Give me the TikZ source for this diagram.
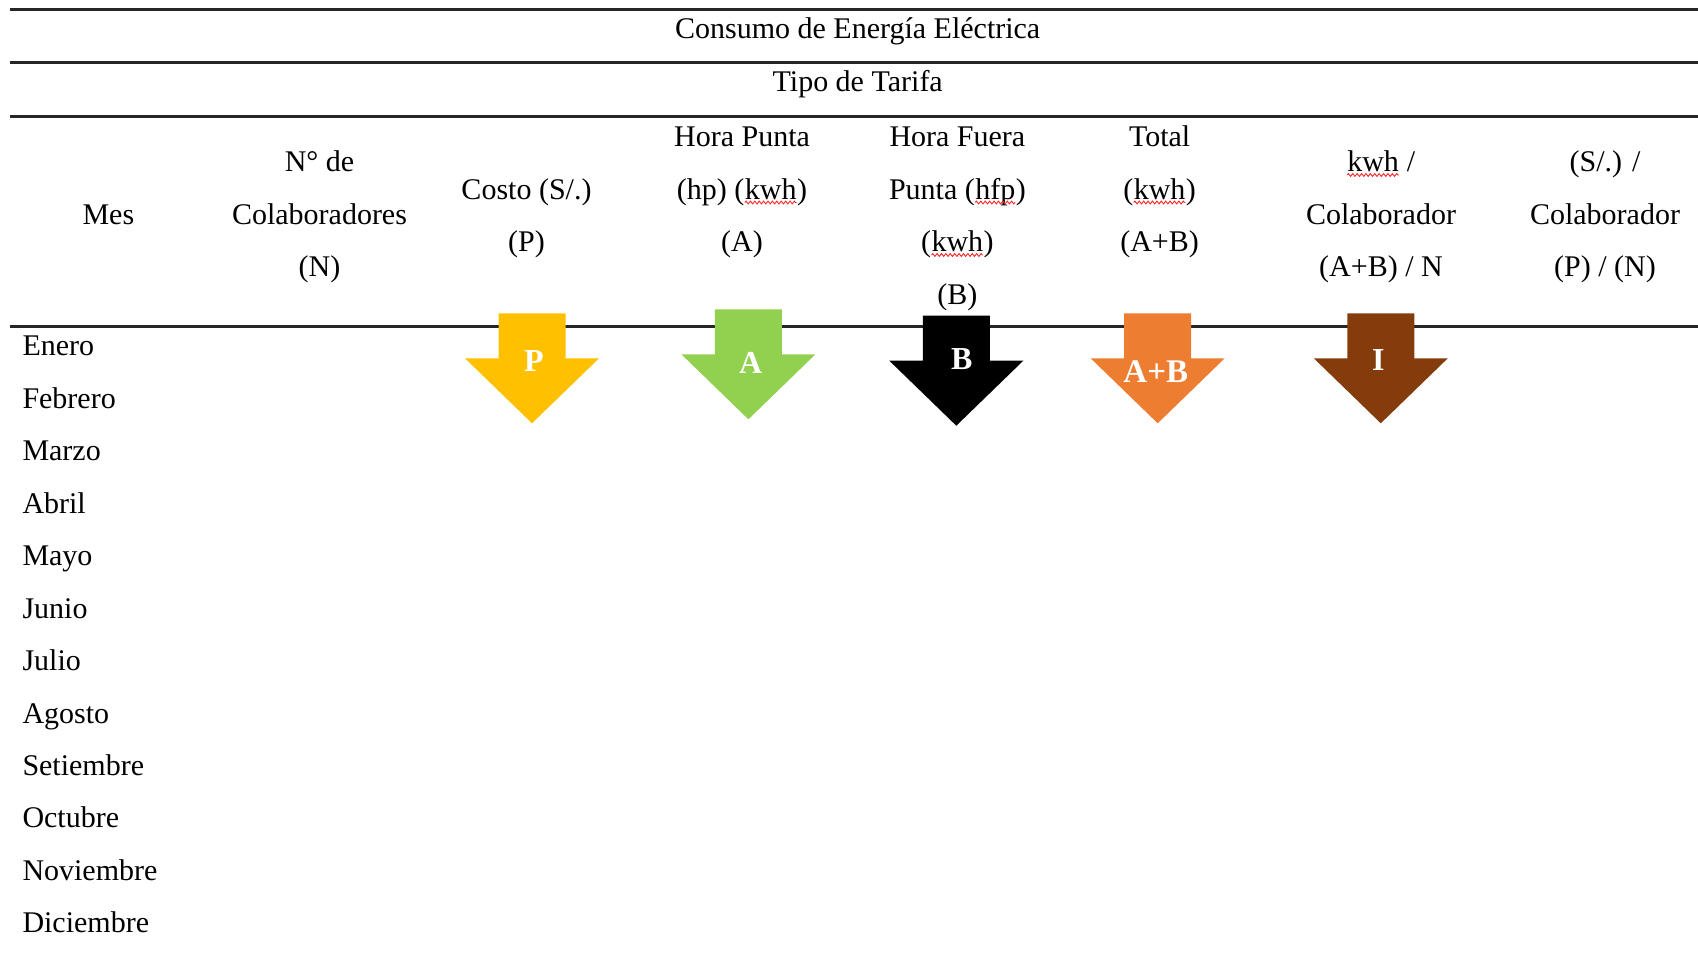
\documentclass[tikz,border=0pt]{standalone}
\usepackage{fontspec}
\setmainfont{Liberation Serif}
\usetikzlibrary{decorations.pathmorphing}
% red wavy underline for words flagged by the spell checker
\newcommand\spellmark[1]{\tikz[baseline=(sw.base)]{%
  \node[inner sep=0pt, outer sep=0pt] (sw) {#1};
  \draw[red!85!white, line width=0.9pt, decorate,
        decoration={zigzag, amplitude=1.4pt, segment length=4.4pt}]
    ([yshift=-3.5pt]sw.base west) -- ([yshift=-3.5pt]sw.base east);}}
% block arrow pointing down: #1 centre x, #2 top y, #3 fill colour
\newcommand\downblock[3]{%
  \fill[#3] ({#1-33.5},#2) -- ({#1+33.5},#2) -- ({#1+33.5},{#2+45})
    -- ({#1+67},{#2+45}) -- (#1,{#2+110}) -- ({#1-67},{#2+45})
    -- ({#1-33.5},{#2+45}) -- cycle;}
\definecolor{tagyellow}{HTML}{FFC000}
\definecolor{taggreen}{HTML}{92D050}
\definecolor{tagorange}{HTML}{ED7D31}
\definecolor{tagbrown}{HTML}{843C0C}
\begin{document}
\begin{tikzpicture}[x=1pt,y=-1pt,
  every node/.style={inner sep=0pt, outer sep=0pt, font=\fontsize{30}{36}\selectfont},
  cell/.style={anchor=base},
  month/.style={anchor=base west},
  rule/.style={line width=3pt, draw=black!85},
  thinrule/.style={line width=2.2pt, draw=black!85},
  tag/.style={anchor=base, text=white, font=\fontsize{32}{36}\selectfont\bfseries},
]
\useasboundingbox (0,0) rectangle (1698,954);

% table rules
\draw[rule] (10,9.5) -- (1698,9.5);
\draw[rule] (10,62) -- (1698,62);
\draw[rule] (10,116) -- (1698,116);
\draw[thinrule] (10,326.5) -- (1698,326.5);

% spanning headings
\node[cell] (title) at (857.7,38.3) {Consumo de Energía Eléctrica};
\node[cell] (tarifa) at (857.7,91.3) {Tipo de Tarifa};

% column headings
\node[cell] (mes) at (108.4,224.5) {Mes};

\node[cell] (colA1) at (319.5,171.5) {N° de};
\node[cell] (colA2) at (319.5,224) {Colaboradores};
\node[cell] (colA3) at (319.5,276.5) {(N)};

\node[cell] (colB1) at (526.5,199) {Costo (S/.)};
\node[cell] (colB2) at (526.5,251.5) {(P)};

\node[cell] (colC1) at (742,146.5) {Hora Punta};
\node[cell] (colC2) at (742,199) {(hp) (\spellmark{kwh})};
\node[cell] (colC3) at (742,251.5) {(A)};

\node[cell] (colD1) at (957.4,146.5) {Hora Fuera};
\node[cell] (colD2) at (957.4,199) {Punta (\spellmark{hfp})};
\node[cell] (colD3) at (957.4,251.5) {(\spellmark{kwh})};
\node[cell] (colD4) at (957.4,304) {(B)};

\node[cell] (colE1) at (1159.6,146.5) {Total};
\node[cell] (colE2) at (1159.6,199) {(\spellmark{kwh})};
\node[cell] (colE3) at (1159.6,251.5) {(A+B)};

\node[cell] (colF1) at (1381,171.5) {\spellmark{kwh} /};
\node[cell] (colF2) at (1381,224) {Colaborador};
\node[cell] (colF3) at (1381,276.5) {(A+B) / N};

\node[cell] (colG1) at (1605,171.5) {(S/.) /};
\node[cell] (colG2) at (1605,224) {Colaborador};
\node[cell] (colG3) at (1605,276.5) {(P) / (N)};

% months
\foreach \m [count=\i from 0] in {Enero,Febrero,Marzo,Abril,Mayo,Junio,Julio,Agosto,Setiembre,Octubre,Noviembre,Diciembre}
  \node[month] (month\i) at (22.5,{355.7+52.47*\i}) {\m};

% marker arrows
\downblock{532}{313.3}{tagyellow}
\downblock{748.4}{309.3}{taggreen}
\downblock{956.3}{315.7}{black}
\downblock{1157.7}{313.3}{tagorange}
\downblock{1380.8}{313.3}{tagbrown}

\node[tag] (tagP) at (534,371.7) {P};
\node[tag] (tagA) at (750.7,373.3) {A};
\node[tag] (tagB) at (961.7,369.3) {B};
\node[tag, font=\fontsize{33}{36}\selectfont\bfseries] (tagAB) at (1155.8,382.7) {A+B};
\node[tag] (tagI) at (1378.3,370.7) {I};
\end{tikzpicture}
\end{document}
